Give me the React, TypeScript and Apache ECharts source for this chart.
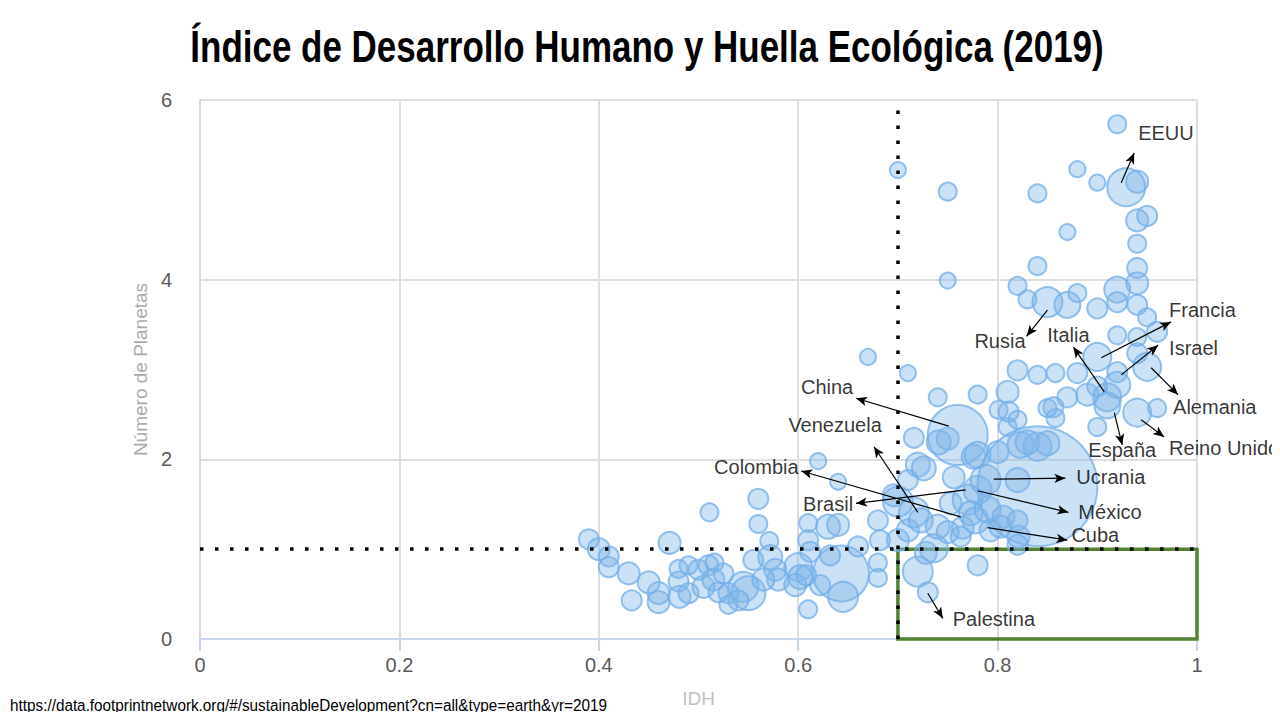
import React, { useEffect, useRef } from "react";
import * as echarts from "echarts";

const TITLE = "Índice de Desarrollo Humano y Huella Ecológica (2019)";
const SOURCE =
  "https://data.footprintnetwork.org/#/sustainableDevelopment?cn=all&type=earth&yr=2019";
const X_NAME = "IDH";
const Y_NAME = "Número de Planetas";

const X_TICKS = [0, 0.2, 0.4, 0.6, 0.8, 1];
const Y_TICKS = [0, 2, 4, 6];

// Thresholds: high human development and one planet of biocapacity
const HDI_THRESHOLD = 0.7;
const PLANET_LIMIT = 1;

// Each country: [IDH, número de planetas, tamaño de la burbuja]
const countries: [number, number, number][] = [
  [0.39, 1.11, 20], [0.40, 1.0, 22], [0.41, 0.92, 20], [0.41, 0.8, 20],
  [0.43, 0.73, 22], [0.433, 0.43, 20], [0.45, 0.63, 22], [0.46, 0.51, 22],
  [0.46, 0.41, 22], [0.471, 1.07, 22], [0.48, 0.78, 18], [0.49, 0.82, 18],
  [0.48, 0.64, 20], [0.481, 0.47, 22], [0.511, 1.41, 18], [0.50, 0.77, 20],
  [0.51, 0.82, 20], [0.516, 0.85, 18], [0.505, 0.58, 22], [0.49, 0.51, 20],
  [0.515, 0.66, 22], [0.525, 0.73, 20], [0.52, 0.52, 20], [0.53, 0.51, 20],
  [0.53, 0.38, 18], [0.545, 0.58, 30], [0.55, 0.51, 34], [0.54, 0.43, 20],
  [0.555, 0.88, 20], [0.56, 1.56, 20], [0.56, 1.28, 18], [0.571, 1.09, 18],
  [0.572, 0.91, 24], [0.577, 0.77, 22], [0.58, 0.66, 22], [0.565, 0.66, 22],
  [0.60, 0.8, 28], [0.602, 0.69, 24], [0.597, 0.6, 22], [0.61, 1.29, 18],
  [0.61, 1.1, 20], [0.612, 0.97, 20], [0.61, 0.33, 18], [0.608, 0.71, 20],
  [0.62, 1.98, 16], [0.622, 0.6, 20], [0.63, 1.25, 24], [0.64, 1.75, 16],
  [0.64, 1.27, 22], [0.643, 0.73, 56], [0.645, 0.47, 30], [0.632, 0.93, 20],
  [0.66, 1.03, 20], [0.67, 3.14, 16], [0.68, 1.32, 20], [0.68, 0.85, 18],
  [0.68, 0.68, 18], [0.682, 1.1, 20], [0.70, 1.53, 30], [0.70, 5.22, 16],
  [0.70, 1.1, 22], [0.71, 2.96, 16], [0.716, 1.41, 30], [0.716, 2.24, 20],
  [0.72, 1.94, 24], [0.726, 1.9, 24], [0.71, 1.77, 20], [0.696, 1.6, 22],
  [0.71, 1.21, 22], [0.723, 1.32, 24], [0.72, 0.75, 30], [0.73, 0.52, 20],
  [0.728, 0.96, 22], [0.736, 1.01, 28], [0.74, 1.25, 24], [0.74, 2.69, 18],
  [0.741, 2.19, 24], [0.75, 2.23, 22], [0.75, 4.98, 18], [0.75, 3.99, 16],
  [0.75, 1.19, 22], [0.753, 1.51, 22], [0.756, 1.8, 22], [0.76, 2.27, 60],
  [0.763, 1.14, 20], [0.765, 1.24, 22], [0.77, 1.55, 30], [0.773, 1.4, 24],
  [0.776, 2.03, 24], [0.78, 2.72, 18], [0.78, 2.05, 26], [0.78, 0.82, 20],
  [0.78, 1.66, 28], [0.778, 1.32, 26], [0.788, 1.77, 30], [0.79, 1.44, 26],
  [0.793, 1.21, 22], [0.80, 2.08, 22], [0.801, 2.55, 18], [0.803, 1.25, 22],
  [0.806, 1.36, 22], [0.81, 2.75, 22], [0.81, 2.36, 18], [0.811, 2.53, 20],
  [0.82, 2.99, 20], [0.82, 2.44, 18], [0.82, 1.77, 24], [0.821, 1.14, 22],
  [0.82, 1.32, 20], [0.823, 2.16, 26], [0.83, 2.19, 24], [0.84, 2.14, 28],
  [0.85, 2.18, 24], [0.84, 1.7, 120], [0.82, 3.93, 18], [0.83, 3.78, 18],
  [0.84, 4.15, 18], [0.84, 4.96, 18], [0.85, 3.75, 30], [0.84, 2.94, 18],
  [0.858, 2.96, 18], [0.856, 2.58, 20], [0.858, 2.46, 18], [0.85, 2.57, 18],
  [0.87, 3.72, 26], [0.87, 4.53, 16], [0.87, 2.69, 20], [0.88, 3.85, 18],
  [0.88, 5.23, 16], [0.88, 2.96, 20], [0.89, 2.72, 22], [0.90, 5.08, 16],
  [0.90, 3.68, 20], [0.90, 3.14, 28], [0.90, 2.81, 20], [0.90, 2.36, 18],
  [0.91, 2.69, 28], [0.91, 2.6, 26], [0.92, 5.73, 18], [0.92, 3.89, 26],
  [0.92, 3.75, 20], [0.92, 3.38, 18], [0.92, 2.97, 20], [0.92, 2.83, 26],
  [0.929, 5.03, 38], [0.94, 5.09, 22], [0.94, 4.66, 22], [0.95, 4.71, 20],
  [0.94, 4.4, 18], [0.94, 4.13, 20], [0.94, 3.96, 22], [0.94, 3.72, 20],
  [0.94, 3.36, 18], [0.94, 3.18, 20], [0.94, 2.52, 28], [0.95, 3.58, 18],
  [0.95, 3.03, 28], [0.96, 3.42, 20], [0.96, 2.57, 18], [0.82, 1.05, 20],
];

type Note = {
  name: string;
  from: [number, number];
  to: [number, number];
  at: [number, number];
  align: "left" | "center" | "right";
};

// Country call-outs: arrow from the bubble to the label
const notes: Note[] = [
  { name: "EEUU", from: [0.924, 5.08], to: [0.937, 5.41], at: [0.941, 5.63], align: "left" },
  { name: "Rusia", from: [0.85, 3.66], to: [0.829, 3.37], at: [0.828, 3.32], align: "right" },
  { name: "Italia", from: [0.907, 2.75], to: [0.876, 3.25], at: [0.871, 3.38], align: "center" },
  { name: "Francia", from: [0.904, 3.13], to: [0.974, 3.53], at: [0.972, 3.66], align: "left" },
  { name: "Israel", from: [0.924, 2.94], to: [0.961, 3.27], at: [0.972, 3.24], align: "left" },
  { name: "Alemania", from: [0.954, 3.02], to: [0.981, 2.72], at: [0.976, 2.58], align: "left" },
  { name: "Reino Unido", from: [0.944, 2.44], to: [0.967, 2.25], at: [0.972, 2.13], align: "left" },
  { name: "España", from: [0.917, 2.52], to: [0.925, 2.16], at: [0.925, 2.1], align: "center" },
  { name: "China", from: [0.751, 2.37], to: [0.658, 2.68], at: [0.629, 2.8], align: "center" },
  { name: "Venezuela", from: [0.72, 1.41], to: [0.676, 2.14], at: [0.637, 2.38], align: "center" },
  { name: "Colombia", from: [0.763, 1.36], to: [0.603, 1.87], at: [0.558, 1.92], align: "center" },
  { name: "Brasil", from: [0.768, 1.66], to: [0.658, 1.51], at: [0.63, 1.5], align: "center" },
  { name: "Ucrania", from: [0.796, 1.78], to: [0.868, 1.79], at: [0.879, 1.8], align: "left" },
  { name: "México", from: [0.78, 1.65], to: [0.871, 1.41], at: [0.881, 1.41], align: "left" },
  { name: "Cuba", from: [0.79, 1.24], to: [0.87, 1.1], at: [0.874, 1.16], align: "left" },
  { name: "Palestina", from: [0.73, 0.51], to: [0.745, 0.23], at: [0.755, 0.22], align: "left" },
];

const SANS = "'Liberation Sans', Arial, sans-serif";

export default function App() {
  const ref = useRef<HTMLDivElement>(null);

  useEffect(() => {
    if (!ref.current) return;
    const chart = echarts.init(ref.current, undefined, { renderer: "svg" });

    chart.setOption({
      animation: false,
      backgroundColor: "#ffffff",
      graphic: [
        {
          // Title, set in a horizontally condensed bold face
          type: "text",
          x: 647,
          y: 47,
          scaleX: 0.795,
          style: {
            text: TITLE,
            font: `bold 44px ${SANS}`,
            fill: "#000000",
            textAlign: "center",
            textVerticalAlign: "middle",
          },
        },
        {
          // Data source
          type: "text",
          x: 10,
          y: 705,
          scaleX: 0.9,
          style: {
            text: SOURCE,
            font: `17px ${SANS}`,
            fill: "#000000",
            textAlign: "left",
            textVerticalAlign: "middle",
          },
        },
      ],
      grid: { left: 200, right: 83, top: 100, bottom: 81 },
      xAxis: {
        type: "value",
        min: X_TICKS[0],
        max: X_TICKS[X_TICKS.length - 1],
        interval: 0.2,
        name: X_NAME,
        nameLocation: "middle",
        nameGap: 50,
        nameTextStyle: { color: "#bfbfbf", fontSize: 19, fontFamily: SANS },
        axisLine: { show: true, lineStyle: { color: "#c9d5ec", width: 2 } },
        axisTick: { show: true, length: 12, lineStyle: { color: "#c9d5ec", width: 2 } },
        axisLabel: {
          color: "#595959",
          fontSize: 20,
          fontFamily: SANS,
          margin: 16,
          formatter: (v: number) => String(Math.round(v * 10) / 10),
        },
        splitLine: { show: true, lineStyle: { color: "#dedede", width: 2 } },
      },
      yAxis: {
        type: "value",
        min: Y_TICKS[0],
        max: Y_TICKS[Y_TICKS.length - 1],
        interval: 2,
        name: Y_NAME,
        nameLocation: "middle",
        nameGap: 50,
        nameTextStyle: { color: "#ababab", fontSize: 19, fontFamily: SANS },
        axisLine: { show: true, lineStyle: { color: "#d9d9d9", width: 2 } },
        axisTick: { show: false },
        axisLabel: { color: "#595959", fontSize: 20, fontFamily: SANS, margin: 28 },
        splitLine: { show: true, lineStyle: { color: "#dedede", width: 2 } },
      },
      series: [
        {
          name: "Países",
          type: "scatter",
          data: countries,
          symbolSize: (v: number[]) => v[2],
          itemStyle: {
            color: "rgba(125, 180, 232, 0.5)",
            borderColor: "rgba(115, 175, 232, 0.95)",
            borderWidth: 2,
          },
          markLine: {
            silent: true,
            symbol: ["none", "none"],
            label: { show: false },
            lineStyle: { color: "#000000", width: 3.5, type: [3.5, 11.5] },
            data: [{ xAxis: HDI_THRESHOLD }, { yAxis: PLANET_LIMIT }],
          },
          markArea: {
            silent: true,
            itemStyle: {
              color: "rgba(0,0,0,0)",
              borderColor: "#548235",
              borderWidth: 3.5,
            },
            data: [
              [
                { coord: [HDI_THRESHOLD, Y_TICKS[0]] },
                { coord: [X_TICKS[X_TICKS.length - 1], PLANET_LIMIT] },
              ],
            ],
          },
        },
        {
          name: "Etiquetas",
          type: "scatter",
          silent: true,
          symbolSize: 0,
          itemStyle: { color: "rgba(0,0,0,0)" },
          data: notes.map((n) => ({
            name: n.name,
            value: n.at,
            label: { align: n.align },
          })),
          label: {
            show: true,
            position: "inside",
            verticalAlign: "middle",
            formatter: "{b}",
            color: "#000000",
            fontSize: 20,
            fontFamily: SANS,
          },
          markLine: {
            silent: true,
            symbol: ["none", "arrow"],
            symbolSize: [7, 11],
            label: { show: false },
            lineStyle: { color: "#000000", width: 1.2, type: "solid" },
            data: notes.map((n) => [{ coord: n.from }, { coord: n.to }]),
          },
        },
      ],
    });

    return () => chart.dispose();
  }, []);

  return <div ref={ref} style={{ width: 1280, height: 720, margin: -8 }} />;
}
